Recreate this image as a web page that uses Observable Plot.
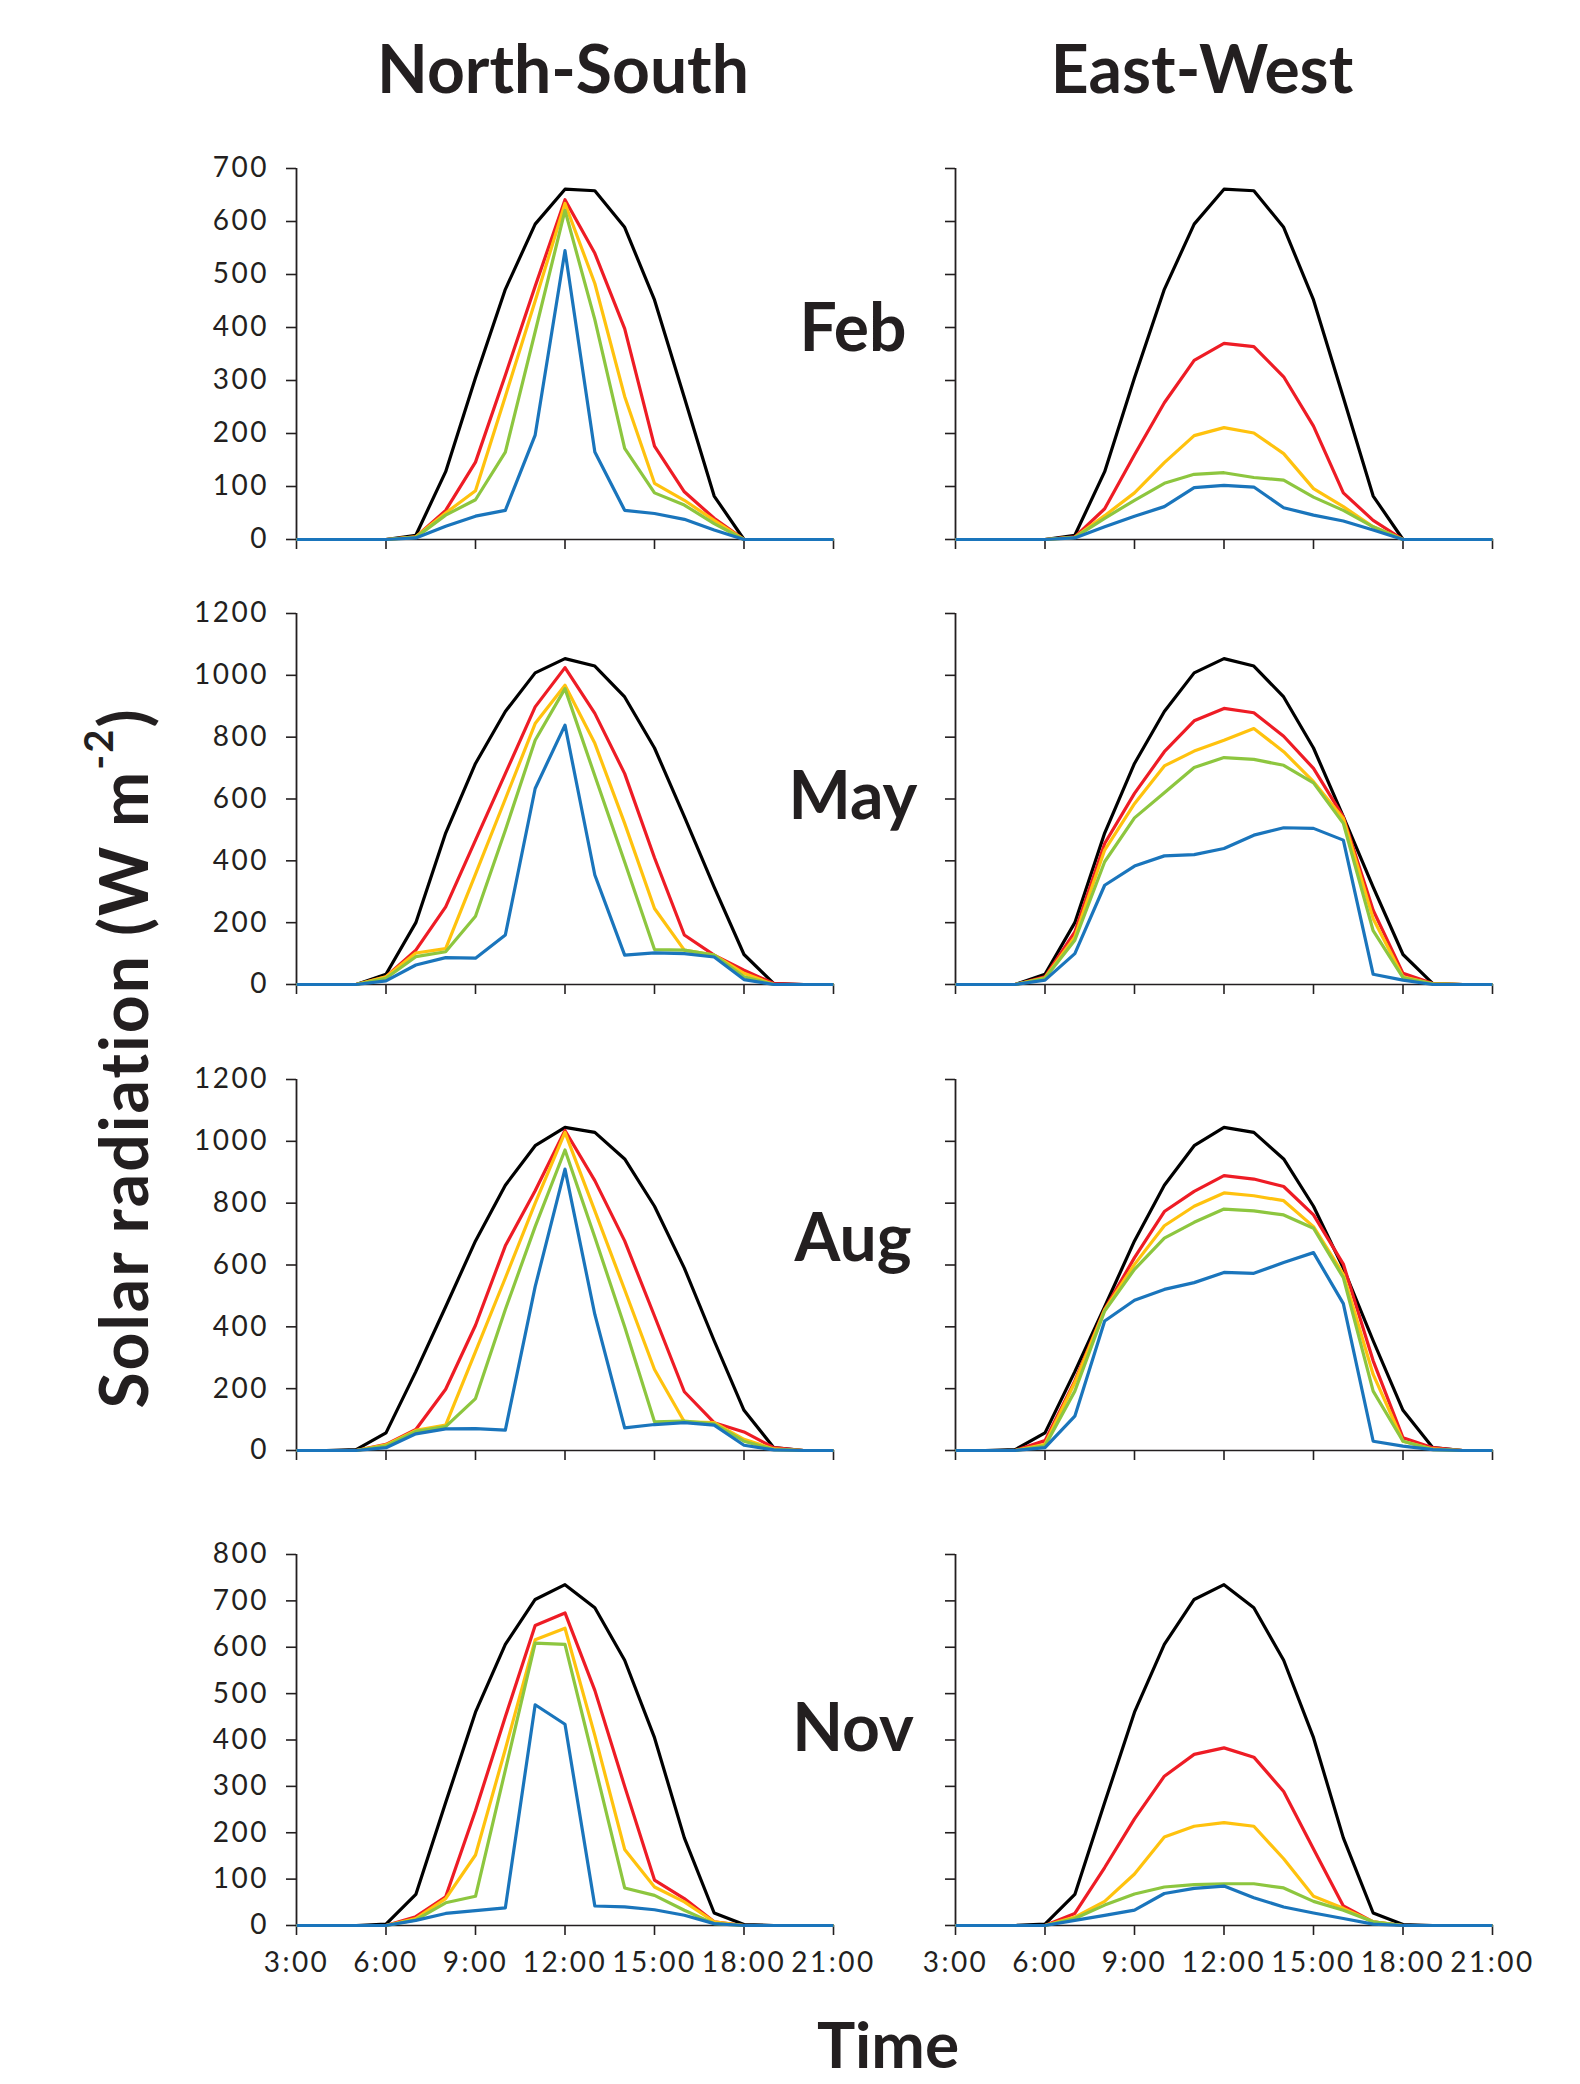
<!DOCTYPE html>
<html>
<head>
<meta charset="utf-8">
<script src="https://cdn.jsdelivr.net/npm/d3@7"></script>
<script src="https://cdn.jsdelivr.net/npm/@observablehq/plot@0.6"></script>
<style>
  html, body { margin: 0; padding: 0; background: #fff; }
  #page { position: relative; width: 1580px; height: 2084px; overflow: hidden; background: #fff;
          font-family: Lato, "Noto Sans", sans-serif; color: #231f20; }
  .panel { position: absolute; }
  .lbl { position: absolute; font-weight: 700; line-height: 1; white-space: nowrap; transform: translateX(-50%); }
  .ytitle { position: absolute; font-weight: 700; font-size: 66px; letter-spacing: 2px; line-height: 1; white-space: nowrap;
            transform: translate(-50%, -50%) rotate(-90deg); }
  #page svg text { letter-spacing: 2.5px; }
  #page svg [aria-label^="x-axis"] line, #page svg [aria-label^="y-axis"] line,
  #page svg [aria-label="x-axis tick"] path, #page svg [aria-label="y-axis tick"] path { stroke-width: 1.6; }
</style>
</head>
<body>
<div id="page"></div>
<script>
// ---------- data (W m-2), hourly from 3:00 to 21:00 ----------
const hours = [3,4,5,6,7,8,9,10,11,12,13,14,15,16,17,18,19,20,21];
const timeTicks = [3,6,9,12,15,18,21];
const columnTitles = ["North-South", "East-West"];
const months = ["Feb", "May", "Aug", "Nov"];
const yTicksFeb = [0,100,200,300,400,500,600,700];
const yTicksMay = [0,200,400,600,800,1000,1200];
const yTicksAug = [0,200,400,600,800,1000,1200];
const yTicksNov = [0,100,200,300,400,500,600,700,800];

// February
const feb_black     = [0,0,0,0,8,128,305,472,595,661,658,589,452,268,82,0,0,0,0];
const feb_ns_red    = [0,0,0,0,5,55,146,310,478,641,540,398,176,90,40,0,0,0,0];
const feb_ns_orange = [0,0,0,0,5,50,92,270,450,634,483,270,106,74,36,0,0,0,0];
const feb_ns_green  = [0,0,0,0,4,46,75,165,392,621,415,172,88,65,30,0,0,0,0];
const feb_ns_blue   = [0,0,0,0,3,25,44,55,197,545,165,55,49,38,18,0,0,0,0];
const feb_ew_red    = [0,0,0,0,5,58,160,258,338,370,364,307,214,88,36,0,0,0,0];
const feb_ew_orange = [0,0,0,0,4,45,88,145,196,211,201,162,96,62,24,0,0,0,0];
const feb_ew_green  = [0,0,0,0,4,40,74,106,123,126,117,112,80,55,24,0,0,0,0];
const feb_ew_blue   = [0,0,0,0,3,24,44,62,98,102,99,60,46,35,18,0,0,0,0];

// May
const may_black     = [0,0,0,33,200,490,715,883,1008,1054,1030,930,765,543,315,97,3,0,0];
const may_ns_red    = [0,0,0,25,111,251,467,682,898,1025,877,682,410,160,95,46,3,0,0];
const may_ns_orange = [0,0,0,25,102,116,357,600,844,968,780,521,246,111,95,36,0,0,0];
const may_ns_green  = [0,0,0,20,90,106,221,499,790,957,675,396,113,111,95,25,0,0,0];
const may_ns_blue   = [0,0,0,12,63,87,85,160,634,839,354,95,102,100,89,16,0,0,0];
const may_ew_red    = [0,0,0,25,170,456,618,753,853,893,879,803,699,542,240,36,3,0,0];
const may_ew_orange = [0,0,0,22,154,435,585,707,755,790,828,753,656,537,213,25,2,0,0];
const may_ew_green  = [0,0,0,20,143,397,539,620,702,734,728,709,652,521,174,22,2,0,0];
const may_ew_blue   = [0,0,0,14,100,321,383,416,420,440,483,507,505,467,33,14,0,0,0];

// August
const aug_black     = [0,0,3,57,255,465,678,858,986,1045,1029,943,790,590,355,130,9,0,0];
const aug_ns_red    = [0,0,0,20,68,198,405,662,840,1035,873,678,435,190,90,60,9,0,0];
const aug_ns_orange = [0,0,0,18,65,82,320,558,800,1029,775,520,262,93,90,36,5,0,0];
const aug_ns_green  = [0,0,0,15,62,77,168,456,724,972,690,400,93,95,86,30,3,0,0];
const aug_ns_blue   = [0,0,0,9,54,70,71,66,530,910,440,73,84,90,82,17,2,0,0];
const aug_ew_red    = [0,0,0,32,225,457,624,773,838,889,878,854,762,603,290,41,9,0,0];
const aug_ew_orange = [0,0,0,20,220,455,602,727,790,833,824,808,724,570,246,30,5,0,0];
const aug_ew_green  = [0,0,0,15,192,451,586,687,738,781,775,762,719,559,192,30,3,0,0];
const aug_ew_blue   = [0,0,0,9,111,419,486,521,543,576,573,608,640,475,30,14,3,0,0];

// November
const nov_black     = [0,0,0,3,67,265,460,606,703,735,685,572,405,189,27,2,0,0,0];
const nov_ns_red    = [0,0,0,0,19,62,248,450,647,674,507,300,98,58,8,0,0,0,0];
const nov_ns_orange = [0,0,0,0,15,58,152,380,616,641,410,164,83,51,8,0,0,0,0];
const nov_ns_green  = [0,0,0,0,12,49,63,335,609,606,345,81,65,33,4,0,0,0,0];
const nov_ns_blue   = [0,0,0,0,11,26,32,38,476,434,42,40,34,22,4,0,0,0,0];
const nov_ew_red    = [0,0,0,0,26,125,230,322,369,383,363,289,165,42,8,0,0,0,0];
const nov_ew_orange = [0,0,0,0,18,52,111,191,214,222,214,144,63,37,8,0,0,0,0];
const nov_ew_green  = [0,0,0,0,15,44,68,83,88,90,90,81,52,33,8,0,0,0,0];
const nov_ew_blue   = [0,0,0,0,11,22,33,69,80,85,60,40,27,15,3,0,0,0,0];

// ---------- styling ----------
const INK = "#231f20";
const COLORS = {black: "#000000", red: "#ee1c25", orange: "#ffc20e", green: "#8dc63f", blue: "#1a75bc"};

const page = document.getElementById("page");

function panel(lines, yTicks, left, top, showY, showX) {
  const mL = 90, mT = 20, mR = 40, mB = 60, W = 537, H = 371;
  const ymax = yTicks[yTicks.length - 1];
  const marks = [
    Plot.ruleY([0], {stroke: INK, strokeWidth: 1.5}),
    Plot.ruleX([3], {stroke: INK, strokeWidth: 1.8}),
    ...lines.map(([values, color]) =>
      Plot.line(hours.map((h, i) => ({hour: h, value: values[i]})),
        {x: "hour", y: "value", stroke: color, strokeWidth: 3.2, strokeLinejoin: "round", strokeLinecap: "butt"}))
  ];
  const svg = Plot.plot({
    width: mL + W + mR, height: mT + H + mB,
    marginLeft: mL, marginRight: mR, marginTop: mT, marginBottom: mB,
    style: "background: transparent; color: " + INK + "; font-family: Lato, 'Noto Sans', sans-serif; font-size: 28px; overflow: visible; max-width: none;",
    x: {type: "linear", domain: [3, 21], ticks: timeTicks,
        tickFormat: showX ? (d => d + ":00") : (() => ""), tickSize: 10, tickPadding: 17, label: null},
    y: {type: "linear", domain: [0, ymax], ticks: yTicks,
        tickFormat: showY ? (d => String(d)) : (() => ""), tickSize: 10, tickPadding: 17.5, label: null},
    marks
  });
  const div = document.createElement("div");
  div.className = "panel";
  div.style.left = left + "px";
  div.style.top = top + "px";
  div.appendChild(svg);
  page.appendChild(div);
}

const rows = [
  {ticks: yTicksFeb, top: 148,
   ns: [[feb_black, COLORS.black], [feb_ns_red, COLORS.red], [feb_ns_orange, COLORS.orange], [feb_ns_green, COLORS.green], [feb_ns_blue, COLORS.blue]],
   ew: [[feb_black, COLORS.black], [feb_ew_red, COLORS.red], [feb_ew_orange, COLORS.orange], [feb_ew_green, COLORS.green], [feb_ew_blue, COLORS.blue]]},
  {ticks: yTicksMay, top: 593,
   ns: [[may_black, COLORS.black], [may_ns_red, COLORS.red], [may_ns_orange, COLORS.orange], [may_ns_green, COLORS.green], [may_ns_blue, COLORS.blue]],
   ew: [[may_black, COLORS.black], [may_ew_red, COLORS.red], [may_ew_orange, COLORS.orange], [may_ew_green, COLORS.green], [may_ew_blue, COLORS.blue]]},
  {ticks: yTicksAug, top: 1059,
   ns: [[aug_black, COLORS.black], [aug_ns_red, COLORS.red], [aug_ns_orange, COLORS.orange], [aug_ns_green, COLORS.green], [aug_ns_blue, COLORS.blue]],
   ew: [[aug_black, COLORS.black], [aug_ew_red, COLORS.red], [aug_ew_orange, COLORS.orange], [aug_ew_green, COLORS.green], [aug_ew_blue, COLORS.blue]]},
  {ticks: yTicksNov, top: 1534,
   ns: [[nov_black, COLORS.black], [nov_ns_red, COLORS.red], [nov_ns_orange, COLORS.orange], [nov_ns_green, COLORS.green], [nov_ns_blue, COLORS.blue]],
   ew: [[nov_black, COLORS.black], [nov_ew_red, COLORS.red], [nov_ew_orange, COLORS.orange], [nov_ew_green, COLORS.green], [nov_ew_blue, COLORS.blue]]}
];

rows.forEach((r, i) => {
  const last = i === rows.length - 1;
  panel(r.ns, r.ticks, 206, r.top, true, last);
  panel(r.ew, r.ticks, 865, r.top, false, last);
});

// ---------- text ----------
function label(text, cx, baseline, size) {
  const d = document.createElement("div");
  d.className = "lbl";
  d.style.fontSize = size + "px";
  d.style.left = cx + "px";
  d.style.top = (baseline - 0.887 * size) + "px";
  d.textContent = text;
  page.appendChild(d);
}
label(columnTitles[0], 563, 94, 66);
label(columnTitles[1], 1202, 94, 66);
const monthBaselines = [352, 820, 1262, 1752];
months.forEach((m, i) => label(m, 853, monthBaselines[i], 66));
label("Time", 888, 2069, 64);

const yt = document.createElement("div");
yt.className = "ytitle";
yt.style.left = "123px";
yt.style.top = "1058px";
yt.innerHTML = 'Solar radiation (W m<span style="font-size:40px; position:relative; top:-35px;">-2</span>)';
page.appendChild(yt);
</script>
</body>
</html>
